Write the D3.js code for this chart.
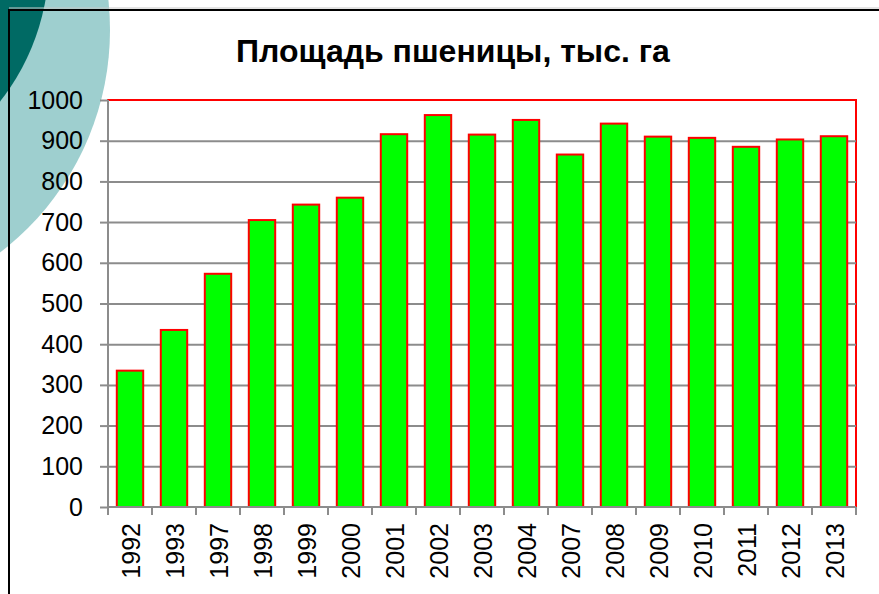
<!DOCTYPE html>
<html>
<head>
<meta charset="utf-8">
<script src="https://cdn.jsdelivr.net/npm/d3@7"></script>
<style>
  body { margin: 0; background: #fff; }
  svg { display: block; font-family: "Liberation Sans", Arial, sans-serif; }
</style>
</head>
<body>
<div id="chart"></div>
<script>
// chart data
var years = ["1992", "1993", "1997", "1998", "1999", "2000", "2001", "2002", "2003",
             "2004", "2007", "2008", "2009", "2010", "2011", "2012", "2013"];
var area = [335, 435, 573, 705, 743, 760, 916, 963, 915, 951, 866, 942, 910, 907, 885, 903, 911];
var yTicks = [0, 100, 200, 300, 400, 500, 600, 700, 800, 900, 1000];
var title = "Площадь пшеницы, тыс. га";

var W = 879, H = 594;
var margin = {top: 100, right: 23, bottom: 87, left: 108};
var width = W - margin.left - margin.right;
var height = H - margin.top - margin.bottom;

var svg = d3.select("#chart").append("svg")
    .attr("width", W)
    .attr("height", H);

// slide decoration in the corner
svg.append("circle").attr("cx", -170).attr("cy", 30).attr("r", 280).attr("fill", "#9ecfcf");
svg.append("circle").attr("cx", -180).attr("cy", -40).attr("r", 229).attr("fill", "#006a64");

// frame
svg.append("line").attr("x1", 9).attr("x2", W).attr("y1", 8).attr("y2", 8)
    .attr("stroke", "#c8c8c8").attr("stroke-width", 1);
svg.append("path").attr("d", "M9," + H + "V10H" + W)
    .attr("fill", "none").attr("stroke", "#000").attr("stroke-width", 2);

svg.append("text")
    .attr("x", 453).attr("y", 61.5)
    .attr("text-anchor", "middle")
    .attr("font-size", 32).attr("font-weight", "bold")
    .text(title);

var g = svg.append("g").attr("transform", "translate(" + margin.left + "," + margin.top + ")");

var x = d3.scaleBand().domain(years).range([0, width]).paddingInner(0.4).paddingOuter(0.2);
var xStep = d3.scaleBand().domain(years).range([0, width]).padding(0);
var y = d3.scaleLinear().domain([0, 1000]).range([height, 0]);

// plot area
g.append("rect").attr("width", width).attr("height", height)
    .attr("fill", "#fff").attr("stroke", "#ff0000").attr("stroke-width", 2);

// gridlines
g.append("g")
    .call(d3.axisLeft(y).tickValues(yTicks.slice(1, -1)).tickSize(-width).tickFormat(""))
    .call(function(s) {
        s.select(".domain").remove();
        s.selectAll("line").attr("stroke", "#8c8c8c").attr("stroke-width", 2);
    });

// bars
g.selectAll(".bar").data(area).enter().append("rect")
    .attr("class", "bar")
    .attr("x", function(d, i) { return x(years[i]); })
    .attr("y", function(d) { return y(d); })
    .attr("width", x.bandwidth())
    .attr("height", function(d) { return height - y(d); })
    .attr("fill", "#00ff00")
    .attr("stroke", "#ff0000")
    .attr("stroke-width", 2);

// y axis
g.append("g")
    .call(d3.axisLeft(y).tickValues(yTicks).tickFormat(d3.format("d")).tickSize(8).tickPadding(17))
    .call(function(s) {
        s.select(".domain").attr("stroke", "#8c8c8c").attr("stroke-width", 2).attr("d", "M0," + height + "V0");
        s.selectAll("line").attr("stroke", "#8c8c8c").attr("stroke-width", 2);
        s.selectAll("text").attr("font-size", 25).attr("fill", "#000")
            .attr("font-family", "Liberation Sans, Arial, sans-serif");
    });

// x axis: ticks between categories
var xa = g.append("g").attr("transform", "translate(0," + height + ")");
xa.append("line").attr("x1", 0).attr("x2", width)
    .attr("stroke", "#8c8c8c").attr("stroke-width", 2);
xa.selectAll(".tk").data(years.concat(["end"])).enter().append("line")
    .attr("class", "tk")
    .attr("x1", function(d) { return d == "end" ? width : xStep(d); })
    .attr("x2", function(d) { return d == "end" ? width : xStep(d); })
    .attr("y1", 0).attr("y2", 8)
    .attr("stroke", "#8c8c8c").attr("stroke-width", 2);

g.append("g")
    .attr("transform", "translate(0," + height + ")")
    .call(d3.axisBottom(x).tickSize(0).tickPadding(0))
    .call(function(s) {
        s.select(".domain").remove();
        s.selectAll("text")
            .attr("font-size", 25).attr("fill", "#000")
            .attr("font-family", "Liberation Sans, Arial, sans-serif")
            .attr("text-anchor", "end")
            .attr("transform", "rotate(-90)")
            .attr("x", -16).attr("y", 1).attr("dy", "0.35em");
    });
</script>
</body>
</html>
